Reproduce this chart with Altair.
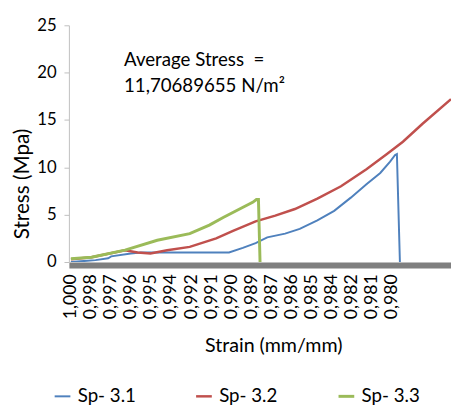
import altair as alt
import pandas as pd

# x positions are in tick-label units (0 = "1,000", 16 = "0,980")
strain_labels = ["1,000", "0,998", "0,997", "0,996", "0,995", "0,994", "0,992", "0,991",
                 "0,990", "0,989", "0,987", "0,986", "0,985", "0,984", "0,982", "0,981", "0,980"]

series_names = ["Sp- 3.1", "Sp- 3.2", "Sp- 3.3"]
series_colors = ["#4F81BD", "#C0504D", "#9BBB59"]

sp31_x = [0, 0.64, 1.23, 1.86, 2.01, 2.99, 3.48, 7.89, 8.58, 9.22, 9.80, 10.69, 11.42,
          12.30, 13.14, 13.97, 14.75, 15.44, 15.93, 16.18, 16.27, 16.42]
sp31_y = [0.0, 0.1, 0.2, 0.4, 0.6, 0.9, 1.0, 1.0, 1.5, 2.0, 2.6, 3.0, 3.5,
          4.4, 5.4, 6.8, 8.2, 9.4, 10.6, 11.3, 11.4, 0.0]

sp32_x = [0, 1.03, 2.70, 3.33, 3.97, 4.80, 5.93, 7.25, 8.09, 9.22, 10.2, 11.18, 12.3,
          13.48, 14.75, 15.74, 16.57, 17.55, 18.97]
sp32_y = [0.3, 0.5, 1.25, 1.0, 0.9, 1.25, 1.6, 2.5, 3.3, 4.3, 4.9, 5.6, 6.7,
          8.0, 9.8, 11.35, 12.7, 14.6, 17.2]

sp33_x = [0, 1.03, 2.70, 4.31, 5.93, 6.91, 7.60, 9.07, 9.26, 9.36, 9.44]
sp33_y = [0.35, 0.5, 1.25, 2.3, 3.0, 3.9, 4.7, 6.3, 6.6, 6.6, 0.0]

annotation_text = ["Average Stress\u00a0 =", "11,70689655 N/m²"]
annotation_x = [2.65]
annotation_y = [22.3]

rows = []
for name, xs, ys in zip(series_names, [sp31_x, sp32_x, sp33_x], [sp31_y, sp32_y, sp33_y]):
    for i, (xv, yv) in enumerate(zip(xs, ys)):
        rows.append({"series": name, "strain": xv, "stress": yv, "order": i})
df = pd.DataFrame(rows)

FONT = "Lato"
x_scale = alt.Scale(domain=[-0.1, 18.97], nice=False, zero=False)
y_scale = alt.Scale(domain=[0, 25], nice=False)

label_expr = "[" + ",".join('"%s"' % s for s in strain_labels) + "][datum.value]"

x_axis = alt.Axis(title="Strain (mm/mm)", values=list(range(len(strain_labels))),
                  labelExpr=label_expr, labelAngle=270, labelAlign="right",
                  labelBaseline="middle", labelPadding=9, ticks=False,
                  domainColor="#7F7F7F", domainWidth=6, offset=3,
                  labelFont=FONT, labelFontSize=18, labelColor="#000000",
                  titleFont=FONT, titleFontSize=20, titleFontWeight="normal",
                  titleColor="#000000", titleX=208, titleY=82,
                  titleBaseline="middle", grid=False, labelOverlap=False,
                  labelSeparation=0)
y_axis = alt.Axis(title="Stress (Mpa)", values=[0, 5, 10, 15, 20, 25],
                  tickSize=5, tickColor="#BFBFBF", domainColor="#BFBFBF",
                  labelPadding=8, labelFont=FONT, labelFontSize=17,
                  labelColor="#000000", titleFont=FONT, titleFontSize=21,
                  titleFontWeight="normal", titleColor="#000000",
                  titleX=-47, titleY=161, titleAlign="center",
                  titleBaseline="middle", grid=False)

lines = alt.Chart(df).mark_line(clip=True).encode(
    x=alt.X("strain:Q", scale=x_scale, axis=x_axis),
    y=alt.Y("stress:Q", scale=y_scale, axis=y_axis),
    color=alt.Color("series:N",
                    scale=alt.Scale(domain=series_names, range=series_colors),
                    legend=alt.Legend(title=None, orient="none", direction="horizontal",
                                      legendX=-16, legendY=368, symbolType="stroke",
                                      symbolStrokeWidth=5, symbolSize=256,
                                      labelFont=FONT, labelFontSize=19, labelColor="#000000",
                                      labelOffset=6, columnPadding=55)),
    strokeWidth=alt.StrokeWidth("series:N",
                                scale=alt.Scale(domain=series_names, range=[2, 3, 3]),
                                legend=None),
    order="order:Q",
)

ann_df = pd.DataFrame({"x": annotation_x, "y": annotation_y, "t": [annotation_text]})
annotation = alt.Chart(ann_df).mark_text(
    align="left", baseline="top", font=FONT, fontSize=19, lineHeight=27, color="#000000"
).encode(x=alt.X("x:Q", scale=x_scale, axis=x_axis),
         y=alt.Y("y:Q", scale=y_scale, axis=y_axis),
         text="t")

chart = alt.layer(lines, annotation).properties(
    width=389, height=241,
    autosize=alt.AutoSizeParams(type="none"),
    padding={"left": 62, "top": 14, "right": 0, "bottom": 144},
).configure_view(stroke=None).configure_axis(labelOverlap=False)

chart.save("out.html", embed_options={"renderer": "svg", "actions": False})
